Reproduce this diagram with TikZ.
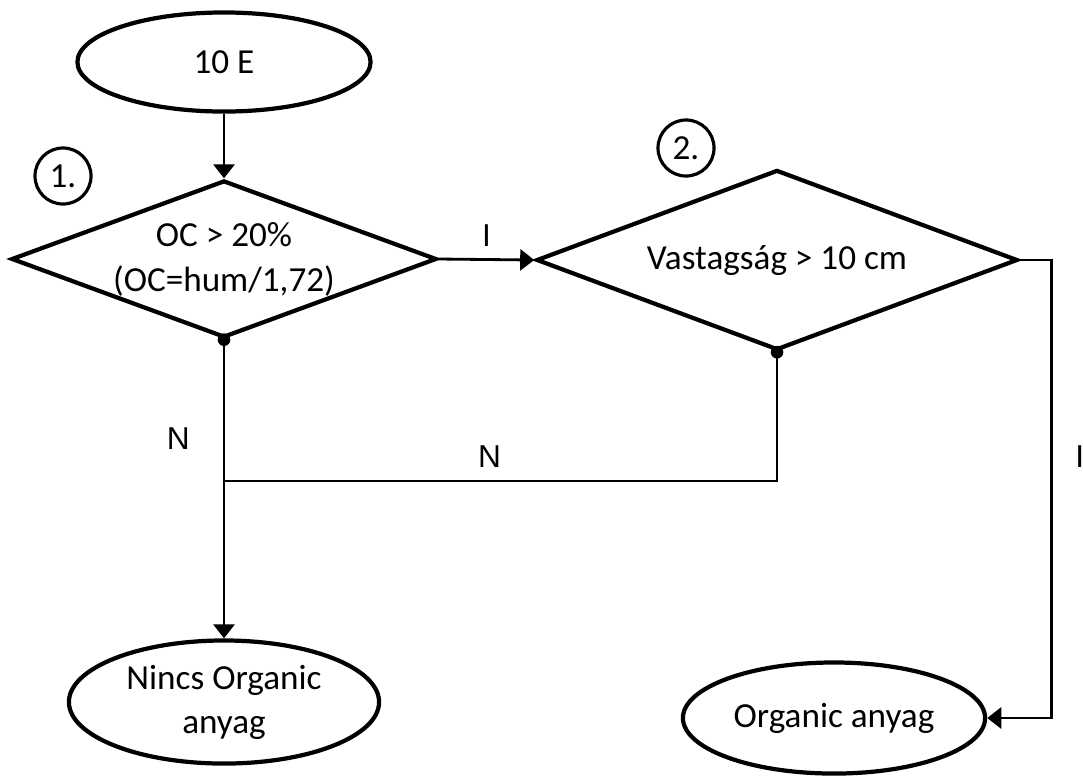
\documentclass[tikz,border=0pt]{standalone}
\usepackage{fontspec}
\setmainfont{Carlito}
\newfontfamily\answerfont{Liberation Sans}
\usetikzlibrary{arrows.meta,shapes.geometric}
\tikzset{
  terminal/.style={ellipse, draw, line width=1.2pt, align=center, inner sep=0pt,
    font=\fontsize{10}{12.5}\selectfont},
  decision/.style={diamond, draw, line width=1.2pt, align=center, inner sep=0pt,
    font=\fontsize{10}{12.8}\selectfont},
  stepno/.style={circle, draw, line width=0.9pt, minimum size=0.56cm, inner sep=0pt,
    font=\fontsize{10}{12}\selectfont},
  joint/.style={circle, fill, inner sep=0pt, minimum size=3.6pt},
  link/.style={line width=0.8pt},
  flow/.style={link, -{Triangle[length=4pt,width=6pt]}},
  answer/.style={font=\answerfont\fontsize{9}{10}\selectfont},
}
\begin{document}
\begin{tikzpicture}[x=0.01cm,y=-0.01cm]
\useasboundingbox (0,0) rectangle (1083,775);

\node[terminal, minimum width=2.93cm, minimum height=0.99cm] (start) at (224,62) {10 E};
\node[decision, aspect=2.71, minimum width=4.25cm, minimum height=1.57cm] (q1) at (224,259) {OC > 20\%\\(OC=hum/1,72)};
\node[decision, aspect=2.67, minimum width=4.81cm, minimum height=1.80cm] (q2) at (777,260) {Vastagság > 10 cm};
\node[stepno] (s1) at (63,176) {1.};
\node[stepno] (s2) at (686,148) {2.};
\node[terminal, minimum width=3.10cm, minimum height=1.23cm] (noorg) at (224,702) {Nincs Organic\\anyag};
\node[terminal, minimum width=3.02cm, minimum height=1.11cm] (org) at (834,718) {Organic anyag};

\node[joint] (j1) at (q1.south) {};
\node[joint] (j2) at (q2.south) {};
\coordinate (merge) at (224,481);

\draw[flow] (start) -- (q1);
\draw[flow] (q1.east) -- node[answer, above] {I} (q2.west);
\draw[flow] (j1.center) -- node[answer, left=6pt, pos=0.33] {N} (noorg.north);
\draw[link] (j2.center) |- node[answer, above, pos=0.76] {N} (merge);
\draw[flow] (q2.east) -- ++(32,0) |- node[answer, right=3pt, pos=0.215] {I} (org);
\end{tikzpicture}
\end{document}
